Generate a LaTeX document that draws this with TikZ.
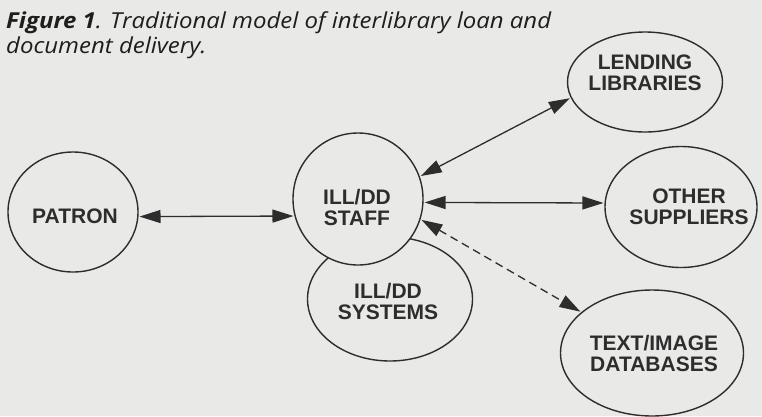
\documentclass[tikz,border=0pt]{standalone}
\usepackage{fontspec}
\setmainfont{Liberation Sans}
\newfontfamily\capfont[FakeStretch=1.09]{Open Sans}
\usetikzlibrary{shapes.geometric,arrows.meta}
\definecolor{bg}{RGB}{233,233,231}
\definecolor{ink}{RGB}{45,45,45}
\definecolor{capink}{RGB}{30,30,30}
\tikzset{
  oval/.style={draw=ink, line width=1.4pt, ellipse, inner sep=0pt},
  lbl/.style={text=ink, font=\fontsize{21}{21}\selectfont\bfseries, align=center, inner sep=0pt},
  link/.style={draw=ink, line width=1.3pt, {Triangle[length=21pt,width=13pt]}-{Triangle[length=21pt,width=13pt]}, shorten <=1pt, shorten >=1pt},
  dashlink/.style={link, dash pattern=on 8pt off 5pt}
}
\begin{document}
\begin{tikzpicture}[x=1pt,y=-1pt]
\fill[bg] (0,0) rectangle (762,416);
\useasboundingbox (0,0) rectangle (762,416);
% caption
\node[anchor=base west, inner sep=0pt, text=capink, font=\capfont\fontsize{22}{25}\selectfont\itshape, align=left] (cap) at (6,53)
  {\textbf{Figure 1}. Traditional model of interlibrary loan and\\document delivery.};
% ellipses
\node[oval, minimum width=130pt, minimum height=120pt] (patron) at (73,212) {};
\node[oval, minimum width=165pt, minimum height=124pt] (systems) at (390,299) {};
\node[oval, fill=bg, minimum width=130pt, minimum height=132pt] (staff) at (358,199) {};
\node[oval, minimum width=155pt, minimum height=100pt] (lend) at (645,82) {};
\node[oval, minimum width=152pt, minimum height=121pt] (other) at (681,207) {};
\node[oval, minimum width=183pt, minimum height=126pt] (text) at (652,353) {};
% labels
\node[lbl] (patronl) at (75,216) {PATRON};
\node[lbl] (staffl) at (357,207) {ILL/DD\\STAFF};
\node[lbl] (systemsl) at (388,301) {ILL/DD\\SYSTEMS};
\node[lbl] (lendl) at (645,73) {LENDING\\LIBRARIES};
\node[lbl] (otherl) at (689,207) {OTHER\\SUPPLIERS};
\node[lbl] (textl) at (654,353) {TEXT/IMAGE\\DATABASES};
% connectors
\draw[link] (patron.-4) -- (staff.195);
\draw[link] (staff.20) -- (lend.192);
\draw[link] (staff.-3) -- (other.177);
\draw[dashlink] (staff.-18) -- (text.150);
\end{tikzpicture}
\end{document}
